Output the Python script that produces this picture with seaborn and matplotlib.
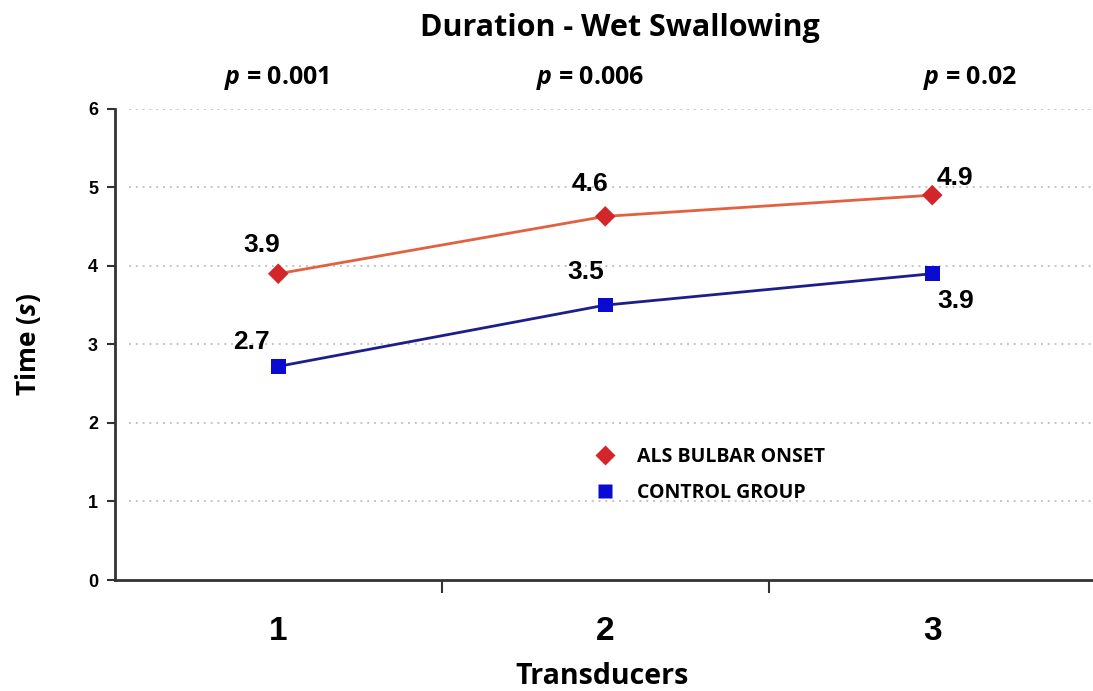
import pandas as pd
import numpy as np
from matplotlib import pyplot as plt
import seaborn as sns

# Data
transducers = [1, 2, 3]
als_bulbar = [3.9, 4.63, 4.9]
control = [2.72, 3.5, 3.9]
als_labels = ["3.9", "4.6", "4.9"]
control_labels = ["2.7", "3.5", "3.9"]
p_values = ["0.001", "0.006", "0.02"]

df = pd.DataFrame({
    "Transducers": transducers * 2,
    "Time": als_bulbar + control,
    "group": ["ALS BULBAR ONSET"] * 3 + ["CONTROL GROUP"] * 3,
})

sns.set_style("white")
plt.rcParams["font.family"] = ["Liberation Sans", "DejaVu Sans"]
plt.rcParams["text.color"] = "black"
plt.rcParams["mathtext.fontset"] = "custom"
plt.rcParams["mathtext.it"] = "Open Sans:italic:bold"

fig = plt.figure(figsize=(10.93, 6.91), dpi=100)
ax = fig.add_axes([0.105, 0.1606, 0.8975, 0.682])

# lines
sns.lineplot(data=df, x="Transducers", y="Time", hue="group",
             palette={"ALS BULBAR ONSET": "#e2623f", "CONTROL GROUP": "#1c1f8a"},
             linewidth=2, legend=False, ax=ax)
# markers
sns.scatterplot(data=df, x="Transducers", y="Time", hue="group", style="group",
                palette={"ALS BULBAR ONSET": "#d3262a", "CONTROL GROUP": "#0a0ad0"},
                markers={"ALS BULBAR ONSET": "D", "CONTROL GROUP": "s"},
                s=110, edgecolor="none", zorder=5, ax=ax)

ax.set_xlim(0.5, 3.5)
ax.set_ylim(0, 6)
ax.set_yticks(range(0, 7))
ax.set_yticklabels([str(i) for i in range(7)], fontsize=13, fontweight="bold", color="black")
ax.set_xticks([1.5, 2.5])
ax.set_xticklabels([])
ax.tick_params(axis="x", bottom=True, direction="out", length=9, width=1.5, color="#333333")
ax.tick_params(axis="y", left=True, direction="out", length=6, width=1.5, color="#333333", pad=6)

# category labels below axis
for x in transducers:
    ax.text(x, -0.66, str(x), ha="center", va="center", fontsize=24, fontweight="bold")

# dotted grid lines
for yv in range(1, 7):
    ax.axhline(yv, xmin=0.015, xmax=1, color="#c4c4c4", linestyle=(0, (1, 2.5)), linewidth=1.4, zorder=0)

for side in ["top", "right"]:
    ax.spines[side].set_visible(False)
for side in ["left", "bottom"]:
    ax.spines[side].set_linewidth(2)
    ax.spines[side].set_color("#333333")

# value labels
als_off = [(-17, 29), (-15, 32), (23, 17)]
ctl_off = [(-27, 24), (-20, 33), (23, -27)]
for x, y, lab, off in zip(transducers, als_bulbar, als_labels, als_off):
    ax.annotate(lab, (x, y), xytext=off, textcoords="offset pixels",
                ha="center", va="center", fontsize=19, fontweight="bold")
for x, y, lab, off in zip(transducers, control, control_labels, ctl_off):
    ax.annotate(lab, (x, y), xytext=off, textcoords="offset pixels",
                ha="center", va="center", fontsize=19, fontweight="bold")

# p values above the plot
p_x = [277, 590, 970]
for px, pv in zip(p_x, p_values):
    fig.text(px / 1093, 1 - 78 / 691, "$p$ = " + pv, ha="center", va="center",
             fontsize=18, fontweight="bold", family=["Open Sans", "DejaVu Sans"])

fig.text(620 / 1093, 1 - 28 / 691, "Duration - Wet Swallowing", ha="center", va="center",
         fontsize=22, fontweight="bold", family=["Open Sans", "DejaVu Sans"])

ax.set_xlabel("")
ax.set_ylabel("")
fig.text(602 / 1093, 1 - 676 / 691, "Transducers", ha="center", va="center",
         fontsize=20.5, fontweight="bold", family=["Open Sans", "DejaVu Sans"])
fig.text(28 / 1093, 1 - 345 / 691, "Time ($s$)", ha="center", va="center", rotation=90,
         fontsize=19, fontweight="bold", family=["Open Sans", "DejaVu Sans"])

# legend
handles, labels = ax.get_legend_handles_labels()
leg = ax.legend(handles, labels, loc="upper left", bbox_to_anchor=(0.462, 0.3195),
                frameon=False, prop={"family": "Open Sans", "weight": "bold", "size": 14},
                handletextpad=0.65, labelspacing=0.8, markerscale=1.0)

fig.savefig("out.png", dpi=100)
